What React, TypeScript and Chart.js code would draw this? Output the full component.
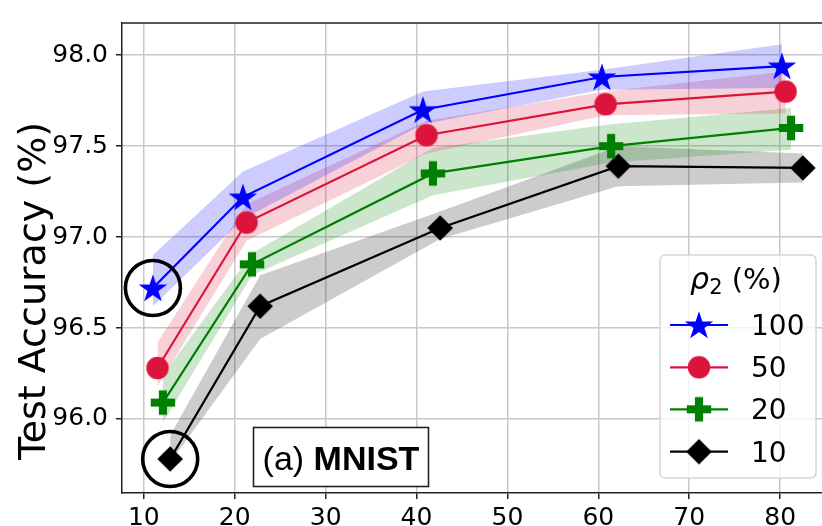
import React, { useEffect, useRef } from 'react';
import { Chart, registerables } from 'chart.js';

Chart.register(...registerables);

// ---- data ----
const seriesLabels = ['100', '50', '20', '10'];
const legendTitle = 'ρ';
const legendTitleSub = '2';
const legendTitleRest = ' (%)';
const yAxisTitle = 'Test Accuracy (%)';
const panelPrefix = '(a) ';
const panelName = 'MNIST';

const xTicks = [10, 20, 30, 40, 50, 60, 70, 80];
const yTicks = [96.0, 96.5, 97.0, 97.5, 98.0];

const x100 = [11.0, 20.9, 40.7, 60.4, 80.2];
const y100 = [96.72, 97.22, 97.7, 97.88, 97.94];
const lo100 = [96.62, 97.1, 97.62, 97.81, 97.82];
const hi100 = [96.9, 97.36, 97.8, 97.92, 98.06];

const x50 = [11.5, 21.3, 41.1, 60.8, 80.6];
const y50 = [96.28, 97.08, 97.56, 97.73, 97.8];
const lo50 = [96.18, 96.98, 97.46, 97.67, 97.68];
const hi50 = [96.42, 97.18, 97.64, 97.8, 97.91];

const x20 = [12.1, 21.9, 41.8, 61.4, 81.2];
const y20 = [96.09, 96.85, 97.35, 97.5, 97.6];
const lo20 = [95.98, 96.79, 97.23, 97.41, 97.48];
const hi20 = [96.24, 96.91, 97.49, 97.62, 97.71];

const x10 = [12.9, 22.8, 42.6, 62.2, 82.5];
const y10 = [95.78, 96.62, 97.05, 97.39, 97.38];
const lo10 = [95.76, 96.44, 96.99, 97.28, 97.3];
const hi10 = [95.91, 96.79, 97.14, 97.5, 97.46];

const seriesX = [x100, x50, x20, x10];
const seriesY = [y100, y50, y20, y10];
const seriesLo = [lo100, lo50, lo20, lo10];
const seriesHi = [hi100, hi50, hi20, hi10];

const lineColors = ['#0000ff', '#dc143c', '#008000', '#000000'];
const bandColors = ['rgba(0,0,255,0.2)', 'rgba(220,20,60,0.2)', 'rgba(0,128,0,0.2)', 'rgba(0,0,0,0.2)'];
const markerKinds = ['star', 'circle', 'plus', 'diamond'];

function makeMarker(kind: string, color: string): HTMLCanvasElement {
  const size = 34;
  const c = document.createElement('canvas');
  c.width = size;
  c.height = size;
  const ctx = c.getContext('2d')!;
  ctx.translate(size / 2, size / 2);
  ctx.fillStyle = color;
  ctx.beginPath();
  if (kind === 'star') {
    const R = 15;
    const r = R * 0.382;
    for (let i = 0; i < 10; i++) {
      const a = -Math.PI / 2 + (i * Math.PI) / 5;
      const rad = i % 2 === 0 ? R : r;
      const px = Math.cos(a) * rad;
      const py = Math.sin(a) * rad + 1.2;
      if (i === 0) ctx.moveTo(px, py);
      else ctx.lineTo(px, py);
    }
    ctx.closePath();
  } else if (kind === 'circle') {
    ctx.arc(0, 0, 11.2, 0, Math.PI * 2);
  } else if (kind === 'plus') {
    const h = 12.2;
    const t = h / 3;
    const pts = [
      [-h, -t], [-t, -t], [-t, -h], [t, -h], [t, -t], [h, -t],
      [h, t], [t, t], [t, h], [-t, h], [-t, t], [-h, t],
    ];
    pts.forEach((p, i) => (i === 0 ? ctx.moveTo(p[0], p[1]) : ctx.lineTo(p[0], p[1])));
    ctx.closePath();
  } else {
    const d = 12.8;
    ctx.moveTo(0, -d);
    ctx.lineTo(d, 0);
    ctx.lineTo(0, d);
    ctx.lineTo(-d, 0);
    ctx.closePath();
  }
  ctx.fill();
  return c;
}

export default function App() {
  const canvasRef = useRef<HTMLCanvasElement | null>(null);

  useEffect(() => {
    const canvas = canvasRef.current;
    if (!canvas) return;
    Chart.defaults.font.family = 'DejaVu Sans';
    const markers = markerKinds.map((k, i) => makeMarker(k, lineColors[i]));

    const datasets: any[] = [];
    seriesLabels.forEach((lab, i) => {
      datasets.push({
        label: lab,
        data: seriesX[i].map((x, j) => ({ x, y: seriesY[i][j] })),
        borderColor: lineColors[i],
        backgroundColor: lineColors[i],
        borderWidth: 2.2,
        pointStyle: markers[i],
        pointRadius: 12,
        fill: false,
        order: i,
      });
    });
    seriesLabels.forEach((lab, i) => {
      const loIndex = datasets.length;
      datasets.push({
        label: lab + ' lo',
        data: seriesX[i].map((x, j) => ({ x, y: seriesLo[i][j] })),
        borderWidth: 0,
        borderColor: 'rgba(0,0,0,0)',
        pointRadius: 0,
        fill: false,
        order: 10 + i,
      });
      datasets.push({
        label: lab + ' hi',
        data: seriesX[i].map((x, j) => ({ x, y: seriesHi[i][j] })),
        borderWidth: 0,
        borderColor: 'rgba(0,0,0,0)',
        backgroundColor: bandColors[i],
        pointRadius: 0,
        fill: loIndex,
        order: 10 + i,
      });
    });

    const overlay = {
      id: 'overlay',
      afterDatasetsDraw(chart: any) {
        const ctx = chart.ctx;
        const area = chart.chartArea;
        const xs = chart.scales.x;
        const ys = chart.scales.y;
        ctx.save();
        ctx.strokeStyle = '#222';
        ctx.lineWidth = 1.5;
        ctx.beginPath();
        ctx.moveTo(area.left, area.top);
        ctx.lineTo(area.right, area.top);
        ctx.lineTo(area.right, area.bottom);
        ctx.stroke();

        // highlight circles
        ctx.lineWidth = 3.6;
        ctx.strokeStyle = '#000';
        [[x100[0], y100[0]], [x10[0], y10[0]]].forEach(([vx, vy]) => {
          ctx.beginPath();
          ctx.arc(xs.getPixelForValue(vx), ys.getPixelForValue(vy), 27.5, 0, Math.PI * 2);
          ctx.stroke();
        });

        // panel label box
        ctx.fillStyle = '#fff';
        ctx.fillRect(253.5, 427.5, 175, 59);
        ctx.lineWidth = 1.6;
        ctx.strokeStyle = '#222';
        ctx.strokeRect(253.5, 427.5, 175, 59);
        ctx.fillStyle = '#000';
        ctx.textBaseline = 'alphabetic';
        ctx.textAlign = 'left';
        const f1 = '34px "Liberation Sans"';
        const f2 = 'bold 34px "Liberation Sans"';
        ctx.font = f1;
        const w1 = ctx.measureText(panelPrefix).width;
        ctx.font = f2;
        const w2 = ctx.measureText(panelName).width;
        const tx = 341 - (w1 + w2) / 2;
        ctx.font = f1;
        ctx.fillText(panelPrefix, tx, 470);
        ctx.font = f2;
        ctx.fillText(panelName, tx + w1, 470);

        // legend
        const lx = 660, ly = 255, lw = 156, lh = 223, rr = 5;
        ctx.beginPath();
        ctx.moveTo(lx + rr, ly);
        ctx.lineTo(lx + lw - rr, ly);
        ctx.arcTo(lx + lw, ly, lx + lw, ly + rr, rr);
        ctx.lineTo(lx + lw, ly + lh - rr);
        ctx.arcTo(lx + lw, ly + lh, lx + lw - rr, ly + lh, rr);
        ctx.lineTo(lx + rr, ly + lh);
        ctx.arcTo(lx, ly + lh, lx, ly + lh - rr, rr);
        ctx.lineTo(lx, ly + rr);
        ctx.arcTo(lx, ly, lx + rr, ly, rr);
        ctx.closePath();
        ctx.fillStyle = 'rgba(255,255,255,0.8)';
        ctx.fill();
        ctx.strokeStyle = '#d6d6d6';
        ctx.lineWidth = 1.5;
        ctx.stroke();

        ctx.fillStyle = '#000';
        const tf1 = 'oblique 30px "DejaVu Sans"';
        const tf2 = '21px "DejaVu Sans"';
        const tf3 = '29px "DejaVu Sans"';
        ctx.font = tf1;
        const a1 = ctx.measureText(legendTitle).width;
        ctx.font = tf2;
        const a2 = ctx.measureText(legendTitleSub).width;
        ctx.font = tf3;
        const a3 = ctx.measureText(legendTitleRest).width;
        const ttx = 736 - (a1 + a2 + a3) / 2;
        const tby = 289;
        ctx.font = tf1;
        ctx.fillText(legendTitle, ttx, tby);
        ctx.font = tf2;
        ctx.fillText(legendTitleSub, ttx + a1, tby + 5);
        ctx.font = tf3;
        ctx.fillText(legendTitleRest, ttx + a1 + a2, tby);

        const ey = [325, 367.3, 409.3, 451.7];
        seriesLabels.forEach((lab, i) => {
          const yy = ey[i];
          ctx.strokeStyle = lineColors[i];
          ctx.lineWidth = 2.2;
          ctx.beginPath();
          ctx.moveTo(670, yy);
          ctx.lineTo(728, yy);
          ctx.stroke();
          const m = markers[i];
          ctx.drawImage(m, 699 - m.width / 2, yy - m.height / 2);
          ctx.fillStyle = '#000';
          ctx.font = '28px "DejaVu Sans"';
          ctx.fillText(lab, 751, yy + 10);
        });

        // y-axis title
        ctx.save();
        ctx.translate(45, 291);
        ctx.rotate(-Math.PI / 2);
        ctx.textAlign = 'center';
        ctx.font = '38px "DejaVu Sans"';
        ctx.fillStyle = '#000';
        ctx.fillText(yAxisTitle, 0, 0);
        ctx.restore();

        ctx.restore();
      },
    };

    const gridColor = '#c8c8c8';
    const chart = new Chart(canvas, {
      type: 'line',
      data: { datasets },
      options: {
        responsive: false,
        animation: false,
        devicePixelRatio: 1,
        layout: { padding: { top: 10.7, right: 14.4, left: 0, bottom: 0 } },
        plugins: {
          legend: { display: false },
          tooltip: { enabled: false },
          filler: { drawTime: 'beforeDatasetsDraw' },
        },
        elements: { line: { tension: 0 } },
        scales: {
          x: {
            type: 'linear',
            min: 7.6,
            max: 85,
            afterBuildTicks: (s: any) => {
              s.ticks = xTicks.map((v) => ({ value: v }));
            },
            afterFit: (s: any) => {
              s.height = 33;
            },
            grid: { color: gridColor, lineWidth: 1.5, tickColor: '#222', tickLength: 6, tickWidth: 1.5 },
            border: { color: '#222', width: 1.5 },
            ticks: {
              font: { size: 25, family: 'DejaVu Sans' },
              color: '#000',
              padding: 4,
              maxRotation: 0,
              autoSkip: false,
              callback: (v: any) => String(v),
            },
          },
          y: {
            type: 'linear',
            min: 95.593,
            max: 98.177,
            afterBuildTicks: (s: any) => {
              s.ticks = yTicks.map((v) => ({ value: v }));
            },
            afterFit: (s: any) => {
              s.width = 122;
            },
            grid: { color: gridColor, lineWidth: 1.5, tickColor: '#222', tickLength: 6, tickWidth: 1.5 },
            border: { color: '#222', width: 1.5 },
            ticks: {
              font: { size: 25, family: 'DejaVu Sans' },
              color: '#000',
              padding: 8,
              autoSkip: false,
              callback: (v: any) => Number(v).toFixed(1),
            },
          },
        },
      },
      plugins: [overlay],
    });
    return () => chart.destroy();
  }, []);

  return (
    <div style={{ position: 'fixed', left: 0, top: 0, width: 822, height: 526, overflow: 'hidden', background: '#fff' }}>
      <canvas ref={canvasRef} width={840} height={526} style={{ display: 'block', width: 840, height: 526 }} />
    </div>
  );
}
